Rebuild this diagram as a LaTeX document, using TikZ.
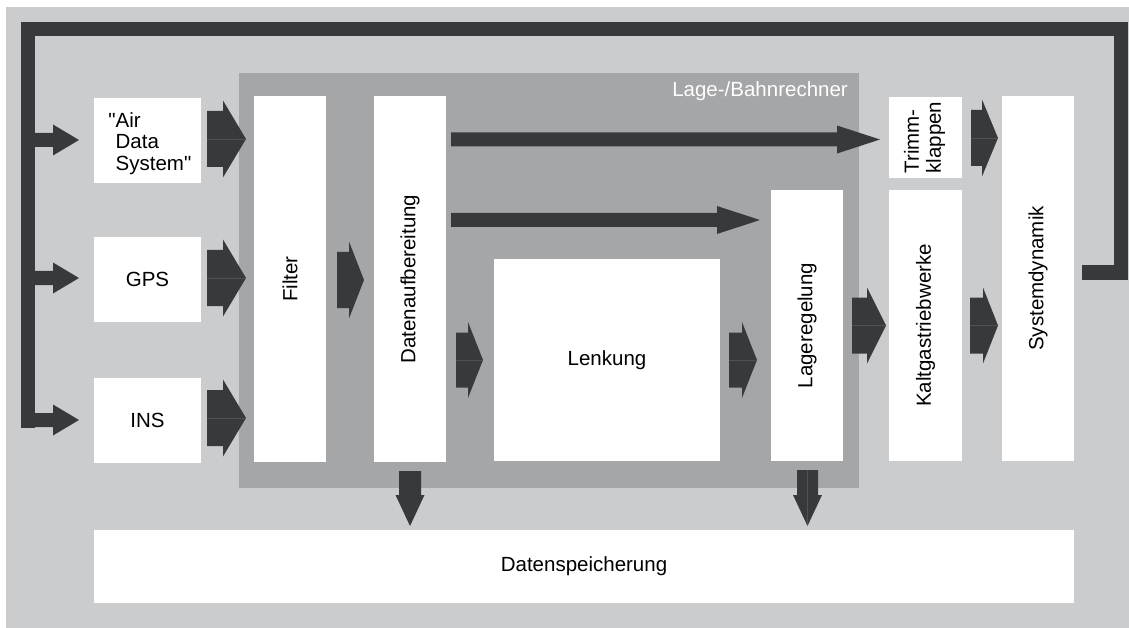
\documentclass[tikz,border=0pt]{standalone}
\usepackage{fontspec}
\newfontfamily\lib{Liberation Sans}
\usetikzlibrary{calc}
\definecolor{lg}{HTML}{CBCCCD}
\definecolor{mg}{HTML}{A5A6A8}
\definecolor{dk}{HTML}{38393B}
\definecolor{ml}{HTML}{505153}
\newcommand\fs{\fontsize{20.5}{22}\selectfont}
% horizontal block arrow: start, tip reference, shaft half, head half, head length, midline
\newcommand\harr[6]{%
  \path let \p1=#1, \p2=#2 in (\x1,\y1) coordinate (h1) (\x2,\y1) coordinate (h2);
  \fill[dk] let \p1=(h1), \p2=(h2) in (\x1,\y1+#3) -- (\x2-#5,\y1+#3) -- (\x2-#5,\y1+#4) -- (\x2,\y1) -- (\x2-#5,\y1-#4) -- (\x2-#5,\y1-#3) -- (\x1,\y1-#3) -- cycle;
  \ifnum#6=1 \draw[mid] (h1) -- ($(h2)+(-1,0)$);\fi}
% vertical (downward) block arrow
\newcommand\varr[6]{%
  \path let \p1=#1, \p2=#2 in (\x1,\y1) coordinate (v1) (\x1,\y2) coordinate (v2);
  \fill[dk] let \p1=(v1), \p2=(v2) in (\x1-#3,\y1) -- (\x1-#3,\y2+#5) -- (\x1-#4,\y2+#5) -- (\x1,\y2) -- (\x1+#4,\y2+#5) -- (\x1+#3,\y2+#5) -- (\x1+#3,\y1) -- cycle;
  \ifnum#6=1 \draw[mid] (v1) -- ($(v2)+(0,-1)$);\fi}
\begin{document}
\begin{tikzpicture}[x=1pt,y=-1pt,
  box/.style={fill=white,inner sep=0pt,outer sep=0pt,anchor=north west,font=\lib\fs,align=center},
  fbline/.style={draw=dk,line width=14pt,line join=miter},
  mid/.style={draw=ml,line width=0.8pt}]
\useasboundingbox (0,0) rectangle (1129,628);
\fill[lg] (6,7) rectangle (1129,628);
% Lage-/Bahnrechner region
\node[box,fill=mg,minimum width=620,minimum height=415] (lbr) at (239,73) {};
\node[font=\lib\fs,text=white,anchor=east,inner sep=0pt] (lbrlabel) at (848,91) {Lage-/Bahnrechner};
% boxes
\node[box,minimum width=107,minimum height=85] (air) at (94,98) {\hspace*{12pt}\raisebox{-4pt}[\height][\depth]{\fontsize{20.5}{21.5}\selectfont\begin{tabular}{@{}l@{}}\llap{"}Air\\Data\\System"\end{tabular}}};
\node[box,minimum width=107,minimum height=85] (gps) at (94,237) {GPS};
\node[box,minimum width=107,minimum height=85] (ins) at (94,378) {INS};
\node[box,minimum width=72,minimum height=366] (filter) at (254,96) {\rotatebox{90}{Filter}};
\node[box,minimum width=72,minimum height=366] (daten) at (374,96) {\rotatebox{90}{Datenaufbereitung}};
\node[box,minimum width=226,minimum height=202] (lenk) at (494,259) {Lenkung};
\node[box,minimum width=72,minimum height=271] (lage) at (771,190) {\rotatebox{90}{Lageregelung}};
\node[box,minimum width=73,minimum height=81] (trimm) at (889,97) {\rotatebox{90}{\begin{tabular}{@{}l@{}}Trimm-\\klappen\end{tabular}}};
\node[box,minimum width=73,minimum height=271] (kalt) at (889,190) {\rotatebox{90}{Kaltgastriebwerke}};
\node[box,minimum width=72,minimum height=365] (sys) at (1002,96) {\rotatebox{90}{Systemdynamik}};
\node[box,minimum width=980,minimum height=73] (speich) at (94,530) {Datenspeicherung};
% block arrows
\harr{($(air.east)+(6,-1.5)$)}{($(filter.west)+(-8,0)$)}{28pt}{38.5pt}{23pt}{1}
\harr{($(gps.east)+(6,-1.5)$)}{($(filter.west)+(-8,0)$)}{28pt}{38.5pt}{23pt}{1}
\harr{($(ins.east)+(6,-2.5)$)}{($(filter.west)+(-8,0)$)}{28pt}{38.5pt}{23pt}{1}
\harr{($(filter.east)+(11,1)$)}{($(daten.west)+(-10,0)$)}{28pt}{38.5pt}{15pt}{0}
\harr{($(daten.east |- lenk.east)+(10,0)$)}{($(lenk.west)+(-11,0)$)}{27.5pt}{38pt}{15pt}{1}
\harr{($(lenk.east)+(9,0)$)}{($(lage.west)+(-14,0)$)}{27.5pt}{38pt}{15pt}{1}
\harr{($(lage.east)+(9,0)$)}{($(kalt.west)+(-3,0)$)}{28pt}{38pt}{19pt}{1}
\harr{($(kalt.east)+(8,0)$)}{($(sys.west)+(-4,0)$)}{28pt}{38pt}{15pt}{1}
\harr{($(trimm.east)+(9,0.5)$)}{($(sys.west)+(-4,0)$)}{28pt}{38.5pt}{16pt}{1}
% thin arrows
\harr{($(daten.east |- trimm.east)+(5,2)$)}{($(trimm.west)+(-9,0)$)}{7pt}{14pt}{43pt}{0}
\harr{($(daten.east)+(5,-59)$)}{($(lage.west)+(-11,0)$)}{7pt}{14pt}{43pt}{0}
% down arrows
\varr{($(daten.south)+(0,9)$)}{($(speich.north)+(0,-4)$)}{11pt}{14.5pt}{31pt}{0}
\varr{($(lage.south)+(0.5,9)$)}{($(speich.north)+(0,-4)$)}{10.5pt}{14.5pt}{31pt}{1}
% feedback loop
\coordinate (fb0) at ($(sys.east)+(8,-6)$);
\coordinate (fbtr) at (1121,29);
\coordinate (fbtl) at (28,29);
\draw[fbline] (fb0) -| (fbtr) -- (fbtl) -- ($(fbtl |- ins.west)+(0,7)$);
\harr{($(fbtl |- air.west)+(-7,-0.5)$)}{($(air.west)+(-15,0)$)}{7pt}{15.5pt}{26pt}{0}
\harr{($(fbtl |- gps.west)+(-7,-1.5)$)}{($(gps.west)+(-15,0)$)}{7pt}{15.5pt}{26pt}{0}
\harr{($(fbtl |- ins.west)+(-7,-0.5)$)}{($(ins.west)+(-15,0)$)}{7pt}{15.5pt}{26pt}{0}
\end{tikzpicture}
\end{document}
